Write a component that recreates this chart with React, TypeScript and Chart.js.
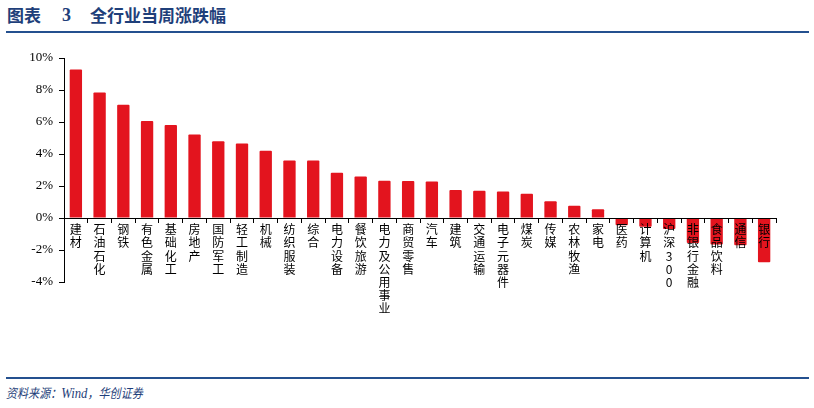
import React, { useEffect, useRef } from "react";
import { Chart, registerables } from "chart.js";

Chart.register(...registerables);

const categories: string[] = [
  "建材", "石油石化", "钢铁", "有色金属", "基础化工", "房地产", "国防军工", "轻工制造", "机械", "纺织服装",
  "综合", "电力设备", "餐饮旅游", "电力及公用事业", "商贸零售", "汽车", "建筑", "交通运输", "电子元器件", "煤炭",
  "传媒", "农林牧渔", "家电", "医药", "计算机", "沪深300", "非银行金融", "食品饮料", "通信", "银行",
];

const weeklyChange: number[] = [
  9.28, 7.85, 7.08, 6.06, 5.82, 5.22, 4.8, 4.66, 4.2, 3.6,
  3.6, 2.83, 2.6, 2.33, 2.32, 2.28, 1.75, 1.71, 1.66, 1.52,
  1.04, 0.77, 0.54, -0.45, -0.54, -0.68, -1.56, -1.66, -1.7, -2.76,
];

const yTicks: number[] = [-4, -2, 0, 2, 4, 6, 8, 10];

const NAVY = "#1f3f7a";
const LINE_BLUE = "#24508f";
const BAR_RED = "#e3141e";

function verticalLabel(s: string): string[] {
  return Array.from(s);
}

function ChartCanvas() {
  const ref = useRef<HTMLCanvasElement | null>(null);
  useEffect(() => {
    if (!ref.current) return;
    const chart = new Chart(ref.current, {
      type: "bar",
      data: {
        labels: categories.map(verticalLabel),
        datasets: [
          {
            data: weeklyChange,
            backgroundColor: BAR_RED,
            borderWidth: 0,
            barPercentage: 0.52,
            categoryPercentage: 1,
            borderRadius: 1,
          },
        ],
      },
      options: {
        animation: false,
        responsive: false,
        maintainAspectRatio: false,
        layout: { padding: { left: 24, right: 38, top: 18, bottom: 88 } },
        plugins: { legend: { display: false }, tooltip: { enabled: false } },
        scales: {
          x: {
            position: { y: 0 } as any,
            afterFit: (s: any) => {
              s.height = 0;
            },
            grid: {
              display: true,
              drawOnChartArea: false,
              drawTicks: true,
              tickLength: 4,
              color: "#000",
              offset: true,
              z: 1,
            },
            border: { display: true, color: "#000", width: 1, z: 1 },
            ticks: {
              z: 1,
              autoSkip: false,
              maxRotation: 0,
              minRotation: 0,
              padding: 1,
              color: "#000",
              font: { family: "'Noto Sans CJK SC'", size: 12, lineHeight: 1.1 },
            },
          },
          y: {
            min: -4,
            max: 10,
            afterFit: (s: any) => {
              s.width = 40;
            },
            afterBuildTicks: (s: any) => {
              s.ticks = yTicks.map((v) => ({ value: v }));
            },
            grid: {
              display: true,
              drawOnChartArea: false,
              drawTicks: true,
              tickLength: 5,
              color: "#000",
            },
            border: { display: true, color: "#000", width: 1 },
            ticks: {
              padding: 6,
              color: "#000",
              font: { family: "'Liberation Serif'", size: 13 },
              callback: (v: any) => `${v}%`,
            },
          },
        },
      },
    });
    return () => chart.destroy();
  }, []);
  return (
    <canvas
      ref={ref}
      width={814}
      height={330}
      style={{ position: "absolute", left: 0, top: 40, width: 814, height: 330 }}
    />
  );
}

export default function App() {
  return (
    <div
      style={{
        position: "fixed",
        left: 0,
        top: 0,
        width: 814,
        height: 408,
        background: "#fff",
        overflow: "hidden",
      }}
    >
      <div
        style={{
          position: "absolute",
          left: 7,
          top: 4,
          fontFamily: "'Noto Sans CJK SC'",
          fontWeight: 700,
          fontSize: 17,
          color: NAVY,
          lineHeight: "22px",
          whiteSpace: "nowrap",
        }}
      >
        <span>图表</span>
        <span style={{ position: "absolute", left: 55, fontFamily: "'Liberation Serif'", fontSize: 18 }}>3</span>
        <span style={{ position: "absolute", left: 83 }}>全行业当周涨跌幅</span>
      </div>
      <div
        style={{ position: "absolute", left: 6, top: 31, width: 803, height: 2, background: LINE_BLUE }}
      />
      <ChartCanvas />
      <div
        style={{ position: "absolute", left: 6, top: 377, width: 803, height: 2, background: LINE_BLUE }}
      />
      <div
        style={{
          position: "absolute",
          left: 6,
          top: 383,
          fontFamily: "'Noto Sans CJK SC'",
          fontStyle: "italic",
          fontSize: 13,
          color: NAVY,
          whiteSpace: "nowrap",
          lineHeight: "20px",
          transform: "scaleX(0.85)",
          transformOrigin: "left center",
        }}
      >
        资料来源：<span style={{ fontFamily: "'Liberation Serif'", fontSize: 15 }}>Wind</span>，华创证券
      </div>
    </div>
  );
}
